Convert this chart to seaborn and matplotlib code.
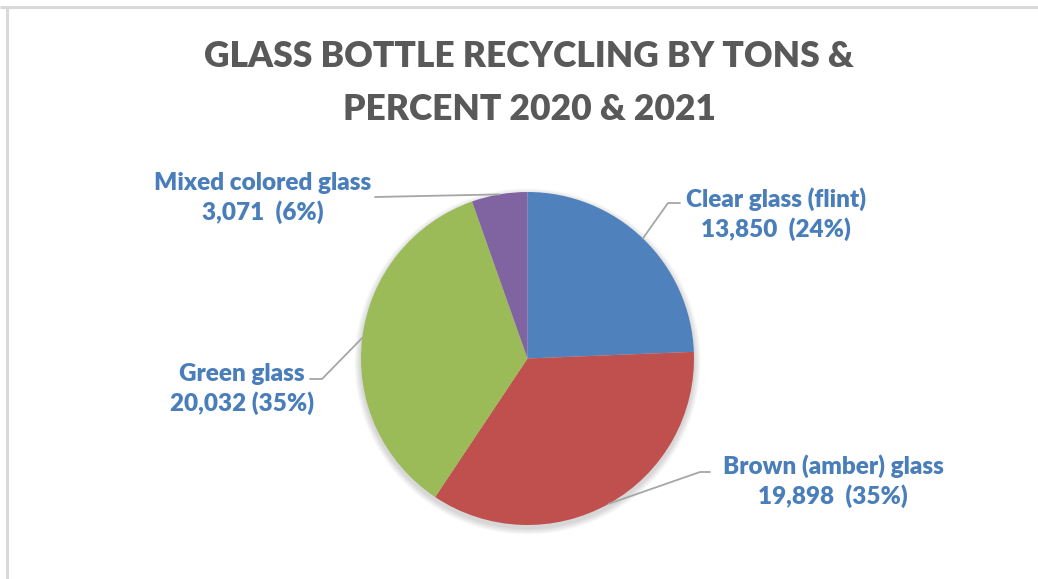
import matplotlib
matplotlib.use("Agg")
import matplotlib.pyplot as plt
import seaborn as sns
import numpy as np
from matplotlib.patches import Circle

# --- data ---
categories = ["Clear glass (flint)", "Brown (amber) glass", "Green glass", "Mixed colored glass"]
tons = [13850, 19898, 20032, 3071]
percent_labels = ["24%", "35%", "35%", "6%"]
value_separators = ["  ", "  ", " ", "  "]
colors = ["#4F81BD", "#C0504D", "#9BBB59", "#8064A2"]
title = "GLASS BOTTLE RECYCLING BY TONS &\nPERCENT 2020 & 2021"

sns.set_theme(style="white")
plt.rcParams["font.family"] = ["Lato", "DejaVu Sans"]

W, H = 1038, 579
fig = plt.figure(figsize=(W / 100, H / 100), dpi=100)
ax = fig.add_axes([0, 0, 1, 1])
ax.set_xlim(0, W)
ax.set_ylim(0, H)
ax.set_aspect("equal")
ax.axis("off")


def py(y):
    """Convert a top-down pixel row to data y."""
    return H - y


# chart frame (top and left edges)
frame_kw = dict(color="#D9D9D9", lw=2.2, solid_capstyle="butt")
ax.plot([0, W], [py(6.5), py(6.5)], **frame_kw)
ax.plot([6.5, 6.5], [py(6.5), 0], **frame_kw)

# pie geometry
cx, cy, R = 527.5, 358.5, 166.5

# soft drop shadow
for i in range(8):
    ax.add_patch(Circle((cx, py(cy + 3)), R + 1 + i * 0.8, color="black",
                        alpha=0.018, lw=0, zorder=1))

wedges, _ = ax.pie(tons, colors=colors, startangle=90, counterclock=False,
                   center=(cx, py(cy)), radius=R, frame=True,
                   wedgeprops=dict(linewidth=0, zorder=2))
ax.set_xlim(0, W)
ax.set_ylim(0, H)
ax.axis("off")

# label layout: block centre, elbow point, line end near the text
label_centres = [(776, 214), (833, 481), (242, 389), (263, 198)]
elbows = [(668, 203), (700, 472), (322, 379), (375, 197)]
line_ends = [(680, 203), (710, 472), (310, 379), (375, 197)]

label_color = "#4A7EBB"
for w, cat, v, p, sep, c, e, le in zip(wedges, categories, tons, percent_labels,
                                        value_separators, label_centres, elbows, line_ends):
    mid = np.deg2rad((w.theta1 + w.theta2) / 2)
    sx, sy = cx + R * np.cos(mid), py(cy) + R * np.sin(mid)
    ax.plot([sx, e[0], le[0]], [sy, py(e[1]), py(le[1])], color="#A6A6A6",
            lw=1.3, zorder=3)
    ax.text(c[0], py(c[1]), f"{cat}\n{v:,}{sep}({p})", ha="center", va="center",
            color=label_color, fontsize=17.5, fontweight="heavy", linespacing=1.33,
            zorder=4)

ax.text(529, py(83), title, ha="center", va="center", color="#595959",
        fontsize=25.5, fontweight="heavy", linespacing=1.72)

fig.savefig("out.png", dpi=100)
